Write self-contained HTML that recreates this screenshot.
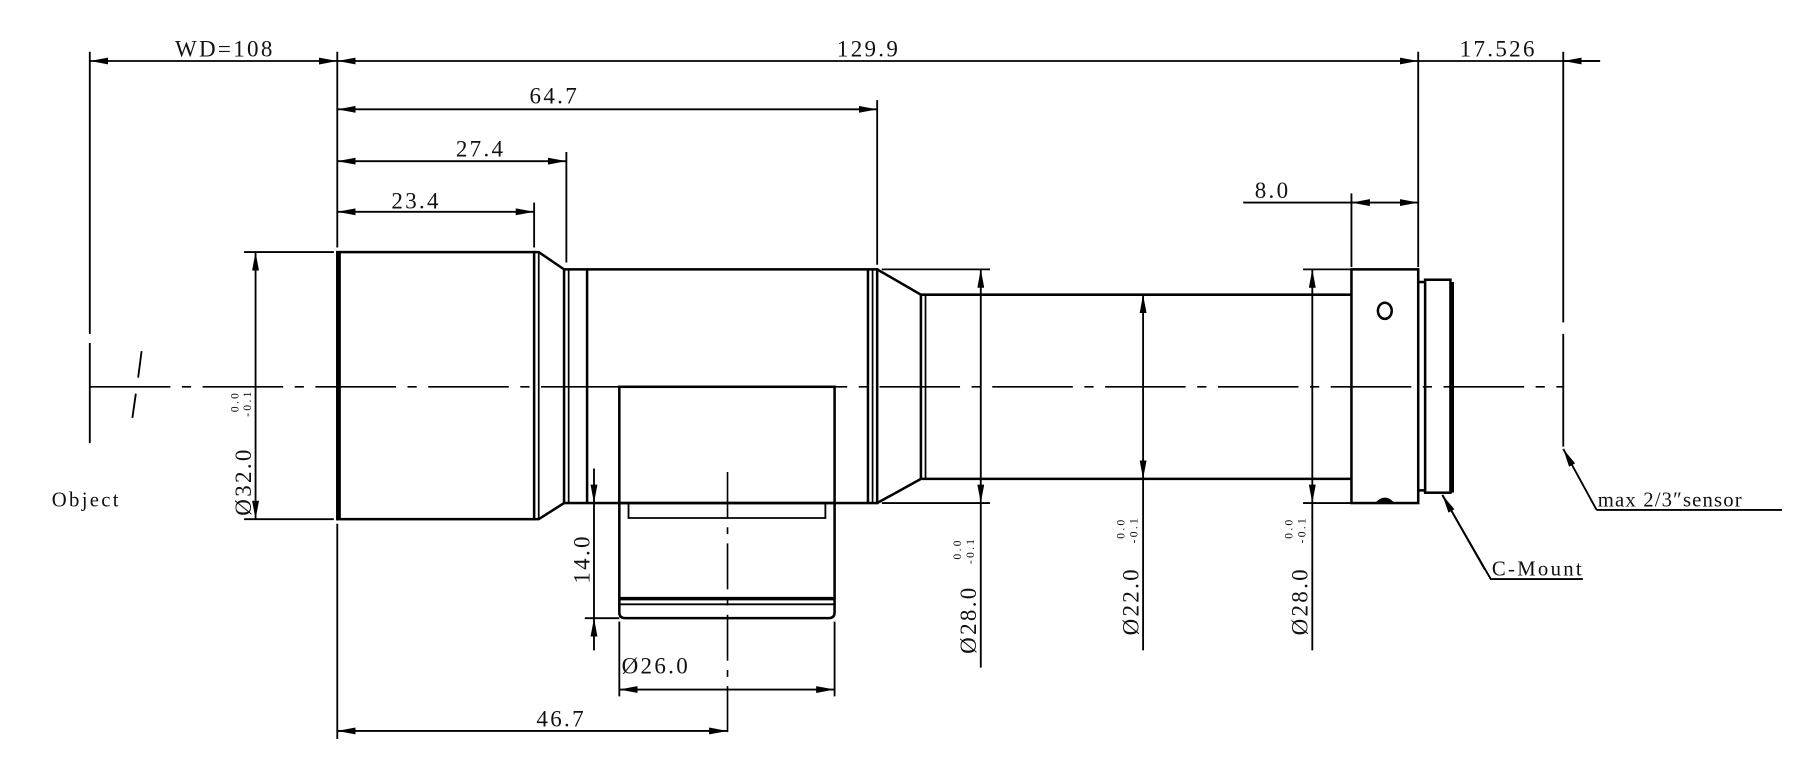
<!DOCTYPE html>
<html><head><meta charset="utf-8"><style>
html,body{margin:0;padding:0;background:#fff;}
svg{display:block}
text{font-family:"Liberation Serif","Noto Serif CJK SC",serif;fill:#111;letter-spacing:2px;}
</style></head><body>
<svg width="1805" height="767" viewBox="0 0 1568 666.3" preserveAspectRatio="none" xmlns="http://www.w3.org/2000/svg">
<defs>
<marker id="a" viewBox="0 0 16 6" refX="16" refY="3" markerWidth="16" markerHeight="6" markerUnits="userSpaceOnUse" orient="auto-start-reverse">
<path d="M0,0 L16,3 L0,6 Z" fill="#000"/></marker>
</defs>
<g stroke="#000" fill="none" stroke-width="1.6">
<line x1="78" y1="45" x2="78" y2="290"/><line x1="78" y1="298" x2="78" y2="385"/>
<line x1="293" y1="45" x2="293" y2="215"/>
<line x1="1232" y1="45" x2="1232" y2="232"/>
<line x1="1358" y1="45" x2="1358" y2="280"/><line x1="1358" y1="290" x2="1358" y2="388"/>
<line x1="762" y1="87" x2="762" y2="230"/>
<line x1="492" y1="132" x2="492" y2="228"/>
<line x1="464" y1="176" x2="464" y2="215"/>
<line x1="1174" y1="168" x2="1174" y2="232"/>
<line x1="293" y1="455" x2="293" y2="642"/>
<line x1="78" y1="53" x2="293" y2="53" marker-start="url(#a)" marker-end="url(#a)"/>
<line x1="293" y1="53" x2="1232" y2="53" marker-start="url(#a)" marker-end="url(#a)"/>
<line x1="1232" y1="53" x2="1390" y2="53"/>
<line x1="1390" y1="53" x2="1358" y2="53" marker-end="url(#a)"/>
<line x1="293" y1="95" x2="762" y2="95" marker-start="url(#a)" marker-end="url(#a)"/>
<line x1="293" y1="140" x2="492" y2="140" marker-start="url(#a)" marker-end="url(#a)"/>
<line x1="293" y1="184" x2="464" y2="184" marker-start="url(#a)" marker-end="url(#a)"/>
<line x1="1080" y1="176" x2="1174" y2="176"/>
<line x1="1174" y1="176" x2="1232" y2="176" marker-start="url(#a)" marker-end="url(#a)"/>
<line x1="293" y1="635" x2="632" y2="635" marker-start="url(#a)" marker-end="url(#a)"/>
<line x1="212" y1="219" x2="290" y2="219"/><line x1="212" y1="451" x2="290" y2="451"/>
<line x1="222" y1="219" x2="222" y2="451" marker-start="url(#a)" marker-end="url(#a)"/>
<line x1="766" y1="234" x2="860" y2="234"/><line x1="766" y1="437" x2="860" y2="437"/>
<line x1="852" y1="234" x2="852" y2="437" marker-start="url(#a)" marker-end="url(#a)"/>
<line x1="852" y1="437" x2="852" y2="580"/>
<line x1="993" y1="256" x2="993" y2="416" marker-start="url(#a)" marker-end="url(#a)"/>
<line x1="993" y1="416" x2="993" y2="565"/>
<line x1="1132" y1="234" x2="1174" y2="234"/><line x1="1132" y1="437" x2="1174" y2="437"/>
<line x1="1140" y1="234" x2="1140" y2="437" marker-start="url(#a)" marker-end="url(#a)"/>
<line x1="1140" y1="437" x2="1140" y2="565"/>
<line x1="516" y1="407" x2="516" y2="437" marker-end="url(#a)"/>
<line x1="516" y1="565" x2="516" y2="537" marker-end="url(#a)"/>
<line x1="516" y1="437" x2="516" y2="537"/>
<line x1="508" y1="537" x2="538" y2="537"/>
<line x1="538" y1="540" x2="538" y2="605"/><line x1="725" y1="540" x2="725" y2="605"/>
<line x1="538" y1="599" x2="725" y2="599" marker-start="url(#a)" marker-end="url(#a)"/>
<polyline points="1253,430 1295,503 1375,503"/>
<line x1="1290" y1="495" x2="1253" y2="430" marker-end="url(#a)"/>
<polyline points="1387,443 1548,443"/>
<line x1="1387" y1="443" x2="1358" y2="390" marker-end="url(#a)"/>
<line x1="78" y1="336" x2="1358" y2="336" stroke-dasharray="70,10,8,10" stroke-width="1.4"/>
<line x1="632" y1="410" x2="632" y2="640" stroke-dasharray="40,8,6,8" stroke-width="1.4"/>
<line x1="123" y1="305" x2="120" y2="328"/><line x1="118" y1="342" x2="115" y2="363"/>
</g>
<g stroke="#000" fill="none" stroke-width="2.2">
<rect x="293" y="219" width="171" height="232"/>
<line x1="295" y1="219" x2="295" y2="451"/>
<line x1="468" y1="219" x2="468" y2="451" stroke-width="1.5"/>
<polyline points="464,219 468,219 490,234"/><polyline points="464,451 468,451 490,437"/>
<rect x="490" y="234" width="272" height="203"/>
<line x1="494" y1="234" x2="494" y2="437" stroke-width="1.5"/>
<line x1="510" y1="234" x2="510" y2="437"/>
<line x1="754" y1="234" x2="754" y2="437"/>
<line x1="758" y1="234" x2="758" y2="437" stroke-width="1.5"/>
<polyline points="762,234 800,256 1174,256"/><polyline points="762,437 800,416 1174,416"/>
<line x1="800" y1="256" x2="800" y2="416"/>
<line x1="804" y1="256" x2="804" y2="416" stroke-width="1.5"/>
<rect x="1174" y="234" width="58" height="203"/>
<ellipse cx="1203" cy="270" rx="6" ry="7"/>
<path d="M1196,437 Q1203,430 1210,437" fill="#000"/>
<rect x="1238" y="243" width="22" height="185"/>
<line x1="1262" y1="245" x2="1262" y2="428"/>
<line x1="1232" y1="245" x2="1238" y2="245"/><line x1="1232" y1="426" x2="1238" y2="426"/>
<rect x="538" y="336" width="187" height="101"/>
<path d="M538,437 L538,532 Q538,537 543,537 L720,537 Q725,537 725,532 L725,437"/>
<polyline points="546,437 546,450 717,450 717,437" stroke-width="1.6"/>
<line x1="538" y1="520" x2="725" y2="520" stroke-width="3"/>
<line x1="538" y1="525" x2="725" y2="525" stroke-width="1.6"/>
</g>
<g font-size="20">
<text x="152" y="49">WD=108</text>
<text x="727" y="49">129.9</text>
<text x="1268" y="49">17.526</text>
<text x="460" y="90">64.7</text>
<text x="396" y="136">27.4</text>
<text x="340" y="181">23.4</text>
<text x="1090" y="172">8.0</text>
<text x="466" y="631">46.7</text>
<text x="540" y="585">Ø26.0</text>
<text x="45" y="440" font-size="18">Object</text>
<text x="1296" y="500" font-size="18">C-Mount</text>
<text x="1388" y="440" font-size="18" style="letter-spacing:1px">max 2/3″sensor</text>
<text transform="translate(512,507) rotate(-90)">14.0</text>
<text transform="translate(218,448) rotate(-90)">Ø32.0</text>
<text transform="translate(848,568) rotate(-90)">Ø28.0</text>
<text transform="translate(989,552) rotate(-90)">Ø22.0</text>
<text transform="translate(1136,552) rotate(-90)">Ø28.0</text>
</g>
<g font-size="10" style="letter-spacing:0">
<text transform="translate(207,358) rotate(-90)">0.0</text>
<text transform="translate(218,362) rotate(-90)">-0.1</text>
<text transform="translate(835,486) rotate(-90)">0.0</text>
<text transform="translate(846,490) rotate(-90)">-0.1</text>
<text transform="translate(977,468) rotate(-90)">0.0</text>
<text transform="translate(988,472) rotate(-90)">-0.1</text>
<text transform="translate(1123,468) rotate(-90)">0.0</text>
<text transform="translate(1134,472) rotate(-90)">-0.1</text>
</g>
</svg>
</body></html>
